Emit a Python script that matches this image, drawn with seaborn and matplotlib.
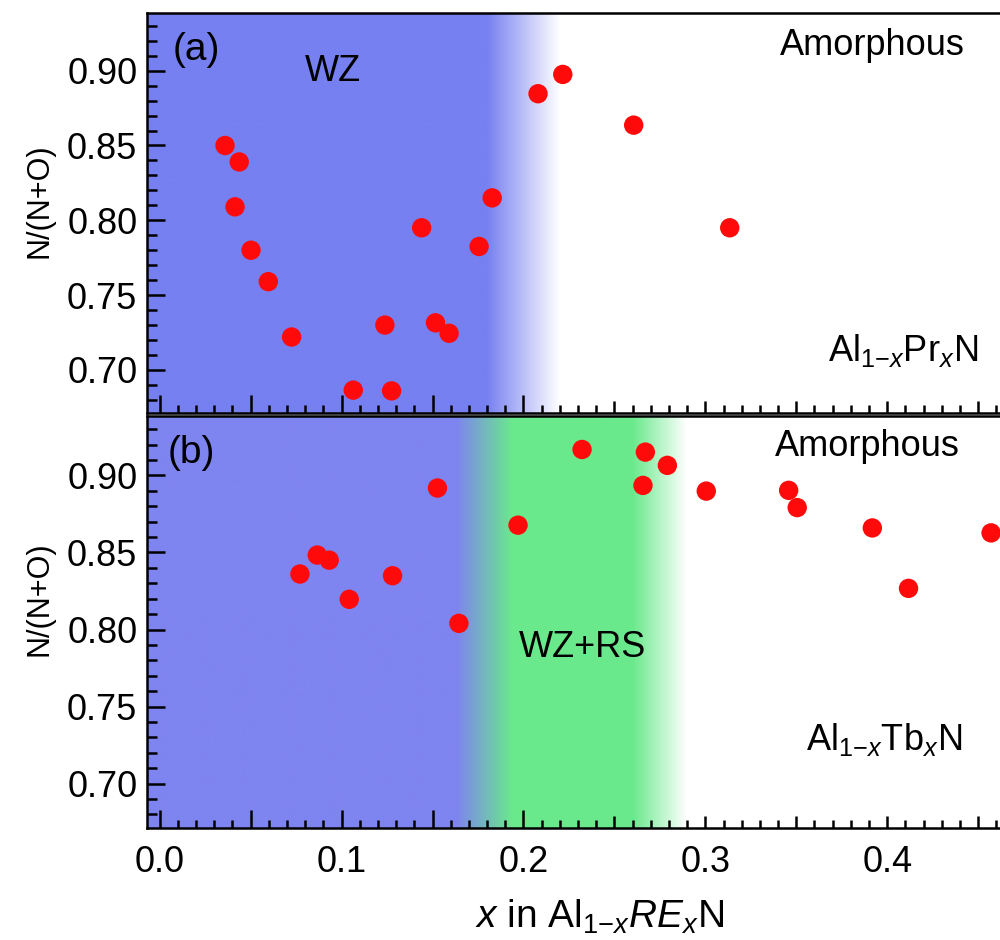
import numpy as np
import pandas as pd
import seaborn as sns
import matplotlib.pyplot as plt
from matplotlib.ticker import MultipleLocator, FuncFormatter
from matplotlib.colors import to_rgb

# data
pr_x = [0.0359, 0.0414, 0.0437, 0.0502, 0.0597, 0.0725, 0.1064, 0.1238, 0.1275,
        0.1440, 0.1516, 0.1591, 0.1756, 0.1828, 0.2080, 0.2216, 0.2606, 0.3134]
pr_y = [0.850, 0.809, 0.839, 0.780, 0.759, 0.722, 0.6865, 0.730, 0.686,
        0.795, 0.7315, 0.7245, 0.7825, 0.815, 0.8846, 0.8975, 0.8636, 0.795]

tb_x = [0.0771, 0.0866, 0.0932, 0.1042, 0.1280, 0.1527, 0.1645, 0.1970, 0.2322,
        0.2657, 0.2670, 0.2791, 0.3005, 0.3458, 0.3505, 0.3918, 0.4117, 0.4571]
tb_y = [0.836, 0.8483, 0.845, 0.8196, 0.8349, 0.8918, 0.804, 0.8677, 0.9168,
        0.8935, 0.9151, 0.9065, 0.8898, 0.8903, 0.8791, 0.8659, 0.8267, 0.8627]

x_ticks = [0.0, 0.1, 0.2, 0.3, 0.4]
y_ticks = [0.70, 0.75, 0.80, 0.85, 0.90]

xlim = (-0.007, 0.462)
ylim = (0.6712, 0.9385)

BLUE_A = '#7680f0'
BLUE_B = '#7e84f0'
GREEN = '#6ae98c'
WHITE = '#ffffff'

sns.set_theme(style='ticks')
plt.rcParams['font.family'] = ['Liberation Sans', 'DejaVu Sans']
plt.rcParams['mathtext.fontset'] = 'custom'
plt.rcParams['mathtext.rm'] = 'Liberation Sans'
plt.rcParams['mathtext.it'] = 'Liberation Sans:italic'
plt.rcParams['text.color'] = 'black'
plt.rcParams['axes.labelcolor'] = 'black'
plt.rcParams['xtick.color'] = 'black'
plt.rcParams['ytick.color'] = 'black'


def shade(ax, stops):
    # horizontal colour ramp behind the points
    xs = np.linspace(xlim[0], xlim[1], 800)
    sx = [s[0] for s in stops]
    cols = np.array([to_rgb(s[1]) for s in stops])
    img = np.stack([np.interp(xs, sx, cols[:, k]) for k in range(3)], axis=-1)
    ax.imshow(img[None, :, :], extent=(xlim[0], xlim[1], ylim[0], ylim[1]),
              aspect='auto', zorder=0, interpolation='bilinear')


def style(ax, show_xlabels, label_y):
    ax.set_xlim(*xlim)
    ax.set_ylim(*ylim)
    ax.xaxis.set_major_locator(MultipleLocator(0.05))
    ax.xaxis.set_minor_locator(MultipleLocator(0.01))
    ax.yaxis.set_major_locator(MultipleLocator(0.05))
    ax.yaxis.set_minor_locator(MultipleLocator(0.01))
    ax.xaxis.set_major_formatter(FuncFormatter(
        lambda v, p: f'{v:.1f}' if min(abs(v - t) for t in x_ticks) < 1e-6 else ''))
    ax.yaxis.set_major_formatter(FuncFormatter(lambda v, p: f'{v:.2f}'))
    ax.tick_params(which='both', direction='in', top=False, right=False,
                   width=1.8, color='black', labelcolor='black')
    ax.tick_params(axis='y', which='major', length=13, pad=7, labelsize=26)
    ax.tick_params(axis='y', which='minor', length=7)
    ax.tick_params(axis='x', which='major', length=13, pad=12, labelsize=26,
                   labelbottom=show_xlabels)
    ax.tick_params(axis='x', which='minor', length=6)
    for t in ax.xaxis.get_major_ticks():
        v = t.get_loc()
        if min(abs(v - s) for s in x_ticks) > 1e-6:
            t.tick1line.set_markersize(9)
    for side in ['left', 'bottom', 'top']:
        ax.spines[side].set_linewidth(1.8)
        ax.spines[side].set_color('black')
        ax.spines[side].set_zorder(5)
    ax.spines['right'].set_visible(False)
    ax.set_ylabel('N/(N+O)', fontsize=22)
    ax.yaxis.set_label_coords(-0.108, label_y)
    ax.set_xlabel('')


fig = plt.figure(figsize=(10, 9.4), dpi=100)
ax1 = fig.add_axes([0.147, 0.5606, 0.853, 0.4255])
ax2 = fig.add_axes([0.147, 0.1191, 0.853, 0.4383])

shade(ax1, [(xlim[0], BLUE_A), (0.1797, BLUE_A), (0.22, WHITE), (xlim[1], WHITE)])
shade(ax2, [(xlim[0], BLUE_B), (0.163, BLUE_B), (0.194, GREEN), (0.2602, GREEN),
            (0.2898, WHITE), (xlim[1], WHITE)])

df_pr = pd.DataFrame({'x': pr_x, 'y': pr_y})
df_tb = pd.DataFrame({'x': tb_x, 'y': tb_y})
sns.scatterplot(data=df_pr, x='x', y='y', ax=ax1, color='#ff0a0a', s=195,
                edgecolor='none', zorder=3, clip_on=False)
sns.scatterplot(data=df_tb, x='x', y='y', ax=ax2, color='#ff0a0a', s=195,
                edgecolor='none', zorder=3, clip_on=False)

style(ax1, False, 0.53)
style(ax2, True, 0.556)

fs = 26
ax1.text(0.0305, 0.9075, '(a)', transform=ax1.transAxes, fontsize=28, va='center', ha='left')
ax1.text(0.218, 0.853, 'WZ', transform=ax1.transAxes, fontsize=fs, va='center', ha='center')
ax1.text(0.850, 0.92, 'Amorphous', transform=ax1.transAxes, fontsize=fs, va='center', ha='center')
ax1.text(0.886, 0.131, r'Al$_{1{-}x}$Pr$_x$N', transform=ax1.transAxes,
         fontsize=fs, va='baseline', ha='center')

ax2.text(0.0246, 0.910, '(b)', transform=ax2.transAxes, fontsize=28, va='center', ha='left')
ax2.text(0.845, 0.925, 'Amorphous', transform=ax2.transAxes, fontsize=fs, va='center', ha='center')
ax2.text(0.511, 0.439, 'WZ+RS', transform=ax2.transAxes, fontsize=fs, va='center', ha='center')
ax2.text(0.8646, 0.189, r'Al$_{1{-}x}$Tb$_x$N', transform=ax2.transAxes,
         fontsize=fs, va='baseline', ha='center')

fig.text(0.60, 1 - 928 / 940, r'$x$ in Al$_{1{-}x}$$RE_x$N', fontsize=28,
         ha='center', va='baseline')

fig.savefig('out.png', dpi=100)
